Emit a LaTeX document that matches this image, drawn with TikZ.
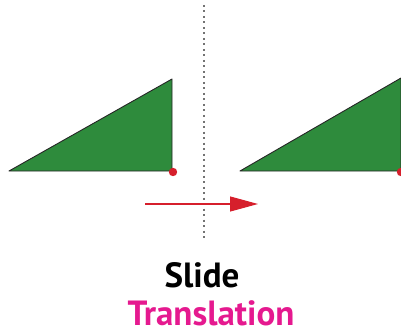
\documentclass[tikz,border=0pt]{standalone}
\usepackage{fontspec}
\setmainfont{PT Sans}
\usepackage{xcolor}
\usetikzlibrary{arrows.meta}
\definecolor{trigreen}{HTML}{2E8B3C}
\definecolor{dotred}{HTML}{D61F2C}
\definecolor{titlepink}{HTML}{E5198F}
\tikzset{
  tri/.style={fill=trigreen,draw=black!85,line width=0.9pt,line join=round},
  pivot/.style={fill=dotred},
  caption/.style={anchor=base,inner sep=0pt,font=\bfseries\fontsize{35}{40}\selectfont},
}
\begin{document}
\begin{tikzpicture}[x=1pt,y=-1pt]
  \useasboundingbox (0,0) rectangle (401,334);
  \clip (0,0) rectangle (401,334);
  \draw[tri] (9,171) -- (172,79) -- (172,171) -- cycle;
  \draw[tri] (240,171) -- (401,78) -- (401,171) -- cycle;
  \fill[pivot] (173,172) circle (4.2);
  \fill[pivot] (401,172) circle (4.2);
  \draw[black!55,line width=1.7pt,dash pattern=on 2pt off 3.5pt] (204,5) -- (204,240);
  \draw[dotred,line width=1.1pt,-{Triangle[length=28pt,width=15pt]}] (145,204) -- (258,204);
  \node[caption] (slide) at (202,287) {Slide};
  \node[caption,text=titlepink] (transl) at (211,325) {Translation};
\end{tikzpicture}
\end{document}
